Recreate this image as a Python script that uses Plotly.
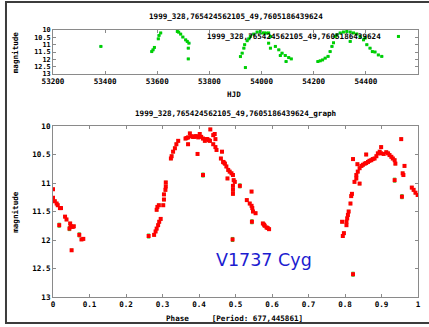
import plotly.graph_objects as go

# ---- light-curve data (HJD panel) ----
hjd = [53383.6, 53578.7, 53583.7, 53589.0, 53604.0, 53606.6, 53613.0,
       53677.0, 53682.0, 53689.6, 53698.0, 53708.7, 53715.0, 53721.4, 53719.0, 53719.0,
       53919.0, 53925.6, 53932.0, 53935.0, 53938.0, 53944.7, 53951.0, 53957.0, 53970.0,
       53983.0, 53995.6, 54002.0, 54010.0, 54018.0, 54027.0, 54034.0, 54027.0, 54034.0,
       54053.0, 54066.0, 54072.0, 54078.6, 54091.0, 54094.0, 54104.0, 54114.0,
       54216.0, 54225.0, 54234.0, 54244.0, 54255.0, 54263.0, 54270.0, 54276.0,
       54282.5, 54289.0, 54301.6, 54314.0, 54327.0, 54340.0, 54340.0, 54352.5,
       54365.0, 54378.0, 54391.0, 54397.0, 54403.6, 54416.0, 54425.0, 54435.0,
       54448.0, 54461.0, 54525.0]
hjd_mag = [11.12, 11.47, 11.35, 11.19, 10.60, 10.37, 10.20,
           10.10, 10.15, 10.28, 10.48, 10.67, 10.78, 10.90, 11.24, 11.97,
           11.81, 11.58, 11.24, 11.00, 12.56, 10.73, 10.60, 10.44, 10.28,
           10.14, 10.10, 10.20, 10.20, 10.21, 10.20, 10.44, 10.90, 11.24,
           11.12, 11.35, 11.74, 11.58, 11.74, 12.15, 11.88, 11.97,
           12.15, 12.10, 12.04, 11.92, 11.80, 11.47, 11.12, 10.87,
           10.44, 10.33, 10.20, 10.14, 10.10, 10.14, 10.78, 10.20,
           10.27, 10.44, 10.67, 10.55, 11.00, 11.24, 11.47, 11.50,
           11.70, 11.80, 10.44]
hjd_err = [0.02] * len(hjd)

# ---- phased data ----
phase = [0.000, 0.000, 0.005, 0.010, 0.013, 0.017, 0.019, 0.022, 0.033, 0.037,
         0.045, 0.047, 0.049, 0.051, 0.054, 0.057, 0.072, 0.078, 0.083,
         0.262, 0.277, 0.281, 0.284, 0.288, 0.291, 0.295, 0.284, 0.286, 0.290,
         0.302, 0.304, 0.304, 0.308, 0.309, 0.309,
         0.323, 0.325, 0.329, 0.334, 0.338, 0.343,
         0.363, 0.366, 0.370, 0.370, 0.375, 0.379, 0.383, 0.387, 0.390, 0.393,
         0.396, 0.398, 0.402, 0.406, 0.411, 0.411, 0.416, 0.420, 0.423, 0.427,
         0.430, 0.431, 0.439, 0.439, 0.443, 0.445, 0.445, 0.448,
         0.460, 0.463, 0.466, 0.468, 0.471, 0.475, 0.478, 0.480, 0.484, 0.489,
         0.493, 0.495, 0.498, 0.493, 0.493, 0.493, 0.492, 0.512,
         0.531, 0.539, 0.544, 0.544, 0.546, 0.548, 0.545, 0.555,
         0.575, 0.578, 0.580, 0.585, 0.588, 0.592,
         0.792, 0.794, 0.797, 0.804, 0.804, 0.806, 0.808, 0.810, 0.815, 0.817,
         0.819, 0.822, 0.822, 0.826, 0.831, 0.831, 0.835, 0.834, 0.840, 0.840,
         0.845, 0.849, 0.854, 0.858, 0.858, 0.863, 0.867, 0.872, 0.876, 0.881,
         0.886, 0.890, 0.895, 0.899, 0.899, 0.906, 0.913, 0.918, 0.922, 0.927,
         0.931, 0.936, 0.938, 0.936, 0.954, 0.956, 0.958, 0.960, 0.963,
         0.983, 0.988, 0.993, 0.999]
phase_mag = [11.11, 11.26, 11.32, 11.36, 11.39, 11.74, 11.44, 11.44, 11.59, 11.64,
             11.80, 11.71, 11.76, 12.18, 11.77, 11.76, 11.91, 11.99, 11.98,
             11.93, 11.91, 11.85, 11.80, 11.74, 11.68, 11.63, 11.47, 11.42, 11.39,
             11.39, 11.29, 11.20, 11.12, 11.06, 10.99,
             10.57, 10.53, 10.45, 10.39, 10.32, 10.26,
             10.22, 10.21, 10.20, 10.32, 10.13, 10.18, 10.19, 10.19, 10.18, 10.18,
             10.49, 10.20, 10.14, 10.19, 10.22, 10.86, 10.26, 10.23, 10.23, 10.25,
             10.26, 10.06, 10.16, 10.32, 10.14, 10.37, 10.23, 10.42,
             10.57, 10.45, 10.63, 10.64, 10.66, 10.71, 10.92, 10.77, 10.80, 10.83,
             10.86, 10.95, 10.98, 11.05, 11.12, 11.19, 11.99, 11.05,
             11.30, 11.36, 11.15, 11.40, 11.44, 11.50, 11.68, 11.53,
             11.71, 11.73, 11.75, 11.78, 11.79, 11.81,
             11.68, 11.93, 11.88, 11.74, 11.68, 11.62, 11.56, 11.50, 11.36, 11.23,
             11.19, 12.60, 10.58, 10.98, 10.92, 10.86, 10.80, 10.67, 10.74, 11.01,
             10.70, 10.68, 10.66, 10.65, 10.50, 10.63, 10.61, 10.60, 10.58, 10.57,
             10.53, 10.48, 10.45, 10.37, 10.48, 10.49, 10.46, 10.48, 10.51, 10.54,
             10.57, 10.60, 10.66, 10.95, 10.23, 11.24, 10.83, 10.86, 10.70,
             11.08, 11.12, 11.17, 11.21]
phase_err = [0.02] * len(phase)
# isolated points carry larger uncertainties
for i, (p, m) in enumerate(zip(phase, phase_mag)):
    if (p, m) in [(0.017, 11.74), (0.262, 11.93), (0.822, 12.60), (0.956, 11.24),
                  (0.936, 10.95), (0.545, 11.68), (0.492, 11.99), (0.512, 11.05),
                  (0.045, 11.80), (0.072, 11.91), (0.411, 10.86)]:
        phase_err[i] = 0.035

TITLE = "1999_328,765424562105_49,7605186439624"
PERIOD = "677,445861"
STAR = "V1737 Cyg"

mono = dict(family="DejaVu Sans Mono", size=7.6, color="black", weight="bold")
mono_small = dict(family="DejaVu Sans Mono", size=6.8, color="black", weight="bold")
axis_line = "#8a8a8a"

fig = go.Figure()

fig.add_trace(go.Scatter(
    x=hjd, y=hjd_mag, mode="markers", xaxis="x2", yaxis="y2",
    marker=dict(symbol="square", size=3, color="#00d000", line=dict(width=0)),
    error_y=dict(type="data", array=hjd_err, color="#55aaff", thickness=1, width=1.5),
    showlegend=False, hoverinfo="skip"))

fig.add_trace(go.Scatter(
    x=phase, y=phase_mag, mode="markers", xaxis="x", yaxis="y",
    marker=dict(symbol="square", size=4, color="#ff0000", line=dict(width=0)),
    error_y=dict(type="data", array=phase_err, color="#22cc22", thickness=1, width=1.5),
    showlegend=False, hoverinfo="skip"))

common_axis = dict(showgrid=False, zeroline=False, showline=True, linecolor=axis_line,
                   linewidth=1, mirror="allticks", ticks="inside", ticklen=3,
                   tickcolor=axis_line, automargin=False)

fig.update_layout(
    width=429, height=327,
    margin=dict(l=53, r=11, t=30, b=30),
    paper_bgcolor="white", plot_bgcolor="white",
    xaxis=dict(domain=[0, 1], range=[0, 1], dtick=0.1, tick0=0, anchor="y",
               tickfont=mono, **common_axis),
    yaxis=dict(domain=[0, 0.6404], range=[13, 10], dtick=0.5, tick0=10, anchor="x",
               tickfont=mono, **common_axis),
    xaxis2=dict(domain=[0, 1], range=[53200, 54600], dtick=200, tick0=53200,
                tickformat="d", anchor="y2", tickfont=mono, **common_axis),
    yaxis2=dict(domain=[0.8352, 1], range=[13, 10], dtick=0.5, tick0=10, anchor="x2",
                tickfont=mono_small, **common_axis),
)

ann = [
    dict(text=TITLE, x=0.5, y=1.0487, font=mono),
    dict(text=TITLE, x=0.904, y=0.9738, font=mono, xanchor="right"),
    dict(text="HJD", x=0.496, y=0.7566, font=mono),
    dict(text=TITLE + "_graph", x=0.5, y=0.689, font=mono),
    dict(text="Phase\u00a0\u00a0\u00a0\u00a0\u00a0[Period: " + PERIOD + "]",
         x=0.497, y=-0.0787, font=mono),
    dict(text="magnitude", x=-0.1035, y=0.9176, font=mono, textangle=-90),
    dict(text="magnitude", x=-0.1035, y=0.32, font=mono, textangle=-90),
    dict(text=STAR, x=0.578, y=0.1386,
         font=dict(family="DejaVu Sans", size=17.5, color="#1c1cd0")),
]
for a in ann:
    a.update(xref="paper", yref="paper", showarrow=False)
    a.setdefault("xanchor", "center")
    a.setdefault("yanchor", "middle")
fig.update_layout(annotations=ann)

# outer frame around the whole chart
fig.add_shape(type="rect", xref="paper", yref="paper",
              x0=-0.1288, x1=1.05, y0=-0.0974, y1=1.1049,
              line=dict(color="#3c3c3c", width=2), fillcolor="rgba(0,0,0,0)", layer="below")

fig.write_html("out.html")
